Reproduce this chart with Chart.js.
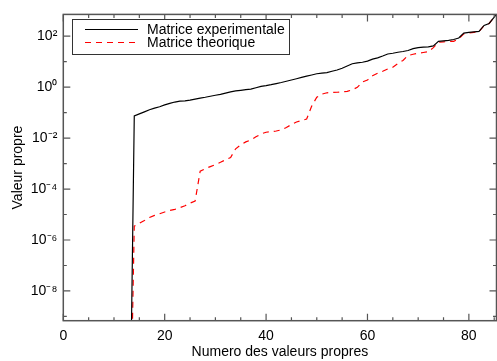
<!DOCTYPE html>
<html>
<head>
<meta charset="utf-8">
<script src="https://cdn.jsdelivr.net/npm/chart.js@4/dist/chart.umd.min.js"></script>
<style>
html,body{margin:0;padding:0;background:#fff;}
#wrap{width:497px;height:361px;}
</style>
</head>
<body>
<div id="wrap"><canvas id="c" width="497" height="361"></canvas></div>
<script>
const indices = [13,14,15,16,17,18,19,20,21,22,23,24,25,26,27,28,29,30,31,32,33,34,35,36,37,38,39,40,41,42,43,44,45,46,47,48,49,50,51,52,53,54,55,56,57,58,59,60,61,62,63,64,65,66,67,68,69,70,71,72,73,74,75,76,77,78,79,80,81,82,83,84,85,86];
const experimental = [1e-16,0.074,0.089,0.107,0.13,0.15,0.17,0.20,0.23,0.26,0.28,0.29,0.31,0.34,0.37,0.40,0.44,0.48,0.52,0.58,0.65,0.71,0.75,0.80,0.83,0.95,1.07,1.15,1.25,1.38,1.52,1.7,1.9,2.14,2.4,2.7,3.0,3.35,3.55,3.7,4.2,4.7,5.5,6.8,8.3,9.0,9.5,10.5,12.6,14.1,16.6,20,21.4,23.4,25.1,27.5,32.4,35.5,37,38,41.7,63,66,69,74,85,132,141,148,155,263,316,562,1000];
const theoretical = [1e-16,3.5e-6,4.5e-6,5.8e-6,7.6e-6,9.3e-6,1.07e-5,1.26e-5,1.45e-5,1.6e-5,1.86e-5,2.2e-5,2.8e-5,3.4e-5,5.0e-4,6.3e-4,7.6e-4,9.1e-4,1.12e-3,1.41e-3,1.74e-3,3.8e-3,5.4e-3,7.1e-3,8.5e-3,0.0112,0.0145,0.017,0.0178,0.019,0.021,0.026,0.034,0.043,0.049,0.056,0.18,0.40,0.53,0.60,0.62,0.63,0.65,0.68,0.79,0.98,1.6,1.9,2.8,3.5,4.2,5.2,6.0,8.5,11.2,17.4,19.5,21.4,22.9,24.5,35.5,57.5,60,61.7,63,79,123,135,141,148,263,316,562,1000];
const seriesLabels = ["Matrice experimentale","Matrice theorique"];
const xTicks = [0,20,40,60,80];
const xMinorTicks = [5,10,15,25,30,35,45,50,55,65,70,75,85];
const yExponents = [-9,-8,-7,-6,-5,-4,-3,-2,-1,0,1,2];
const yLabelExponents = [-8,-6,-4,-2,0,2];

const sup = {'0':'⁰','1':'¹','2':'²','3':'³','4':'⁴','5':'⁵','6':'⁶','7':'⁷','8':'⁸','9':'⁹','-':'⁻'};
function supText(n){return String(n).split('').map(ch=>sup[ch]).join('');}

const FONT = "'Liberation Sans', Arial, sans-serif";

const framePlugin = {
  id:'frame',
  afterDatasetsDraw(chart){
    const {ctx, chartArea:a, scales:{x,y}} = chart;
    ctx.save();
    ctx.strokeStyle = '#555';
    ctx.lineWidth = 1.5;
    ctx.strokeRect(a.left, a.top, a.right-a.left, a.bottom-a.top);
    ctx.lineWidth = 1.2;
    ctx.beginPath();
    const xt = (v,len)=>{const p=x.getPixelForValue(v); ctx.moveTo(p,a.bottom); ctx.lineTo(p,a.bottom-len); ctx.moveTo(p,a.top); ctx.lineTo(p,a.top+len);};
    xTicks.forEach(v=>xt(v,7));
    xMinorTicks.forEach(v=>xt(v,3.5));
    yExponents.forEach(e=>{
      const p=y.getPixelForValue(Math.pow(10,e));
      const len = (e%2===0)?7:3.5;
      ctx.moveTo(a.left,p); ctx.lineTo(a.left+len,p);
      ctx.moveTo(a.right,p); ctx.lineTo(a.right-len,p);
    });
    ctx.stroke();
    // legend
    const bx=72.5, by=19.5, bw=217, bh=35;
    ctx.fillStyle='#fff';
    ctx.fillRect(bx,by,bw,bh);
    ctx.strokeStyle='#333';
    ctx.lineWidth=1;
    ctx.strokeRect(bx,by,bw,bh);
    const rows=[29.5,42.5];
    chart.data.datasets.forEach((ds,i)=>{
      ctx.beginPath();
      ctx.strokeStyle=ds.borderColor;
      ctx.lineWidth=ds.borderWidth;
      ctx.setLineDash(ds.borderDash||[]);
      ctx.moveTo(85,rows[i]); ctx.lineTo(138,rows[i]);
      ctx.stroke();
      ctx.setLineDash([]);
      ctx.fillStyle='#000';
      ctx.font='14px '+FONT;
      ctx.textBaseline='middle';
      ctx.textAlign='left';
      ctx.fillText(ds.label,147,rows[i]+0.5);
    });
    ctx.restore();
  }
};

new Chart(document.getElementById('c'),{
  type:'line',
  data:{
    datasets:[
      {label:seriesLabels[0], data:indices.map((v,i)=>({x:v,y:experimental[i]})), borderColor:'#000', borderWidth:1.2, pointRadius:0, fill:false, tension:0, clip:0},
      {label:seriesLabels[1], data:indices.map((v,i)=>({x:v,y:theoretical[i]})), borderColor:'#ff0000', borderWidth:1.2, borderDash:[6,5], pointRadius:0, fill:false, tension:0, clip:0}
    ]
  },
  options:{
    responsive:false,
    animation:false,
    devicePixelRatio:1,
    layout:{padding:{top:5.7,right:0.5,left:0,bottom:0}},
    plugins:{legend:{display:false},tooltip:{enabled:false}},
    scales:{
      x:{
        type:'linear', min:0, max:85.45,
        grid:{display:false, drawTicks:false},
        border:{display:false},
        afterBuildTicks(s){s.ticks = xTicks.map(v=>({value:v}));},
        afterFit(s){s.height=40.3;},
        ticks:{autoSkip:false, maxRotation:0, padding:7, color:'#000', font:{family:FONT,size:14}},
        title:{display:true, text:'Numero des valeurs propres', color:'#000', font:{family:FONT,size:14}, padding:{top:0,bottom:0.6}}
      },
      y:{
        type:'logarithmic', min:6.8e-10, max:716,
        grid:{display:false, drawTicks:false},
        border:{display:false},
        afterBuildTicks(s){s.ticks = yExponents.map(e=>({value:Math.pow(10,e)}));},
        afterFit(s){s.width=63.3;},
        ticks:{autoSkip:false, padding:6, color:'#000', font:{family:FONT,size:14},
          callback(v){const e=Math.round(Math.log10(v)); return yLabelExponents.includes(e)?('10'+supText(e)):'';}},
        title:{display:true, text:'Valeur propre', color:'#000', font:{family:FONT,size:14}, padding:{top:9.6,bottom:0}}
      }
    }
  },
  plugins:[framePlugin]
});
</script>
</body>
</html>
